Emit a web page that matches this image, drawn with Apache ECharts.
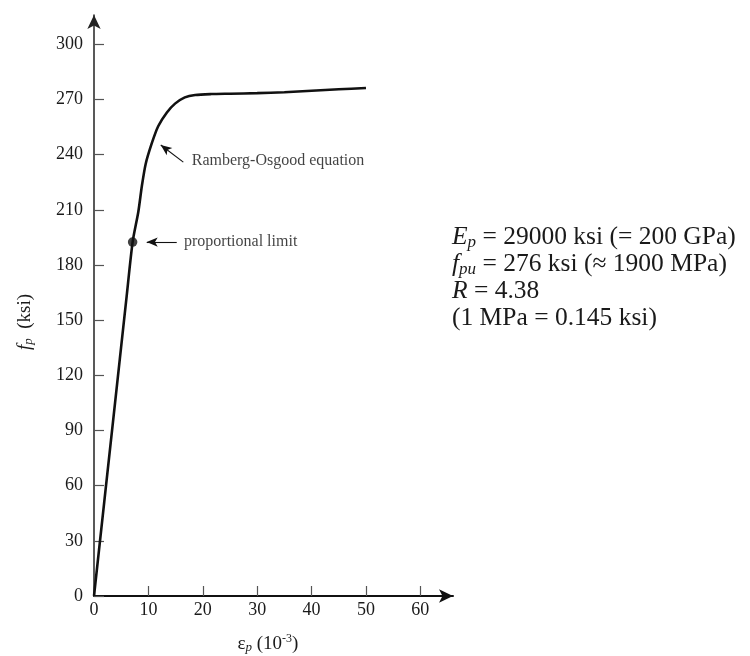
<!DOCTYPE html>
<html>
<head>
<meta charset="utf-8">
<script src="https://cdn.jsdelivr.net/npm/echarts@6/dist/echarts.min.js"></script>
<style>html,body{margin:0;padding:0;background:#fff;}#c{width:750px;height:656px;}</style>
</head>
<body>
<div id="c"></div>
<script>
// strain (10^-3) and stress (ksi)
const strain = [0, 3.5, 6.0, 7.1, 8.15, 8.8, 9.5, 10.6, 11.8, 13.4, 14.9, 16.7, 18.6, 21.6, 25, 30, 35, 40, 45, 50];
const stress = [0, 95, 163, 192.5, 209, 223, 235, 246, 255.5, 263, 267.8, 271.2, 272.5, 273, 273.2, 273.5, 274, 274.8, 275.6, 276.3];
const propLimit = [7.1, 192.5];
const xTicks = [0, 10, 20, 30, 40, 50, 60];
const yTicks = [0, 30, 60, 90, 120, 150, 180, 210, 240, 270, 300];
const roArrow = [[16.42, 236.0], [12.27, 245.3]];
const roLabelAt = [17.97, 236.6];
const plArrow = [[15.21, 192.5], [9.69, 192.5]];
const plLabelAt = [16.55, 192.5];
const roText = 'Ramberg-Osgood equation';
const plText = 'proportional limit';

const FONT = '"Liberation Serif", "Times New Roman", serif';
const chart = echarts.init(document.getElementById('c'), null, {renderer: 'canvas'});

const curve = strain.map((x, i) => [x, stress[i]]);

const option = {
  animation: false,
  backgroundColor: '#fff',
  grid: {left: 94, right: 297, top: 15, bottom: 60, containLabel: false},
  xAxis: {
    type: 'value', min: 0, max: 66,
    axisLine: {show: true, lineStyle: {color: '#111', width: 2}, symbol: ['none', 'arrow'], symbolSize: [10, 14]},
    axisTick: {show: true, inside: true, length: 10, lineStyle: {color: '#555', width: 1.2}, customValues: xTicks},
    axisLabel: {fontFamily: FONT, fontSize: 18, color: '#1a1a1a', margin: 5, customValues: xTicks},
    splitLine: {show: false}
  },
  yAxis: {
    type: 'value', min: 0, max: 316,
    axisLine: {show: true, lineStyle: {color: '#222', width: 1.5}, symbol: ['none', 'arrow'], symbolSize: [10, 14]},
    axisTick: {show: true, inside: true, length: 10, lineStyle: {color: '#555', width: 1.2}, customValues: yTicks},
    axisLabel: {fontFamily: FONT, fontSize: 18, color: '#1a1a1a', margin: 11, customValues: yTicks},
    splitLine: {show: false}
  },
  series: [
    {
      type: 'line', data: curve, smooth: 0.25, showSymbol: false,
      lineStyle: {color: '#111', width: 2.6}, z: 3,
      markLine: {
        silent: true, symbol: ['none', 'arrow'], symbolSize: [7, 11],
        lineStyle: {color: '#111', width: 1.1, type: 'solid'},
        label: {show: false},
        data: [
          [{coord: roArrow[0]}, {coord: roArrow[1]}],
          [{coord: plArrow[0]}, {coord: plArrow[1]}]
        ]
      }
    },
    {
      type: 'scatter', data: [propLimit], symbol: 'circle', symbolSize: 9.5,
      itemStyle: {color: '#111'}, z: 4
    },
    {
      type: 'scatter', symbolSize: 0,
      data: [
        {value: roLabelAt, name: roText},
        {value: plLabelAt, name: plText}
      ],
      label: {show: true, position: 'right', distance: 0, formatter: p => p.name,
        fontFamily: FONT, fontSize: 16, color: '#111'}
    }
  ],
  graphic: [
    {
      type: 'text', x: 25, y: 322, rotation: Math.PI / 2,
      style: {
        text: '{fi|f}{sub|p}{n|  (ksi)}',
        align: 'center', verticalAlign: 'middle',
        rich: {
          fi: {fontFamily: FONT, fontSize: 19, fontStyle: 'italic', fill: '#1a1a1a'},
          sub: {fontFamily: FONT, fontSize: 13, fontStyle: 'italic', fill: '#1a1a1a', padding: [8, 0, 0, 0]},
          n: {fontFamily: FONT, fontSize: 19, fill: '#1a1a1a'}
        }
      }
    },
    {
      type: 'text', x: 268, y: 644,
      style: {
        text: '{n|ε}{sub|p}{n| (10}{sup|-3}{n|)}',
        align: 'center', verticalAlign: 'middle',
        rich: {
          n: {fontFamily: FONT, fontSize: 19, fill: '#1a1a1a'},
          sub: {fontFamily: FONT, fontSize: 13, fontStyle: 'italic', fill: '#1a1a1a', padding: [8, 0, 0, 0]},
          sup: {fontFamily: FONT, fontSize: 12, fill: '#1a1a1a', padding: [0, 0, 10, 0]}
        }
      }
    },
    {
      type: 'text', x: 452, y: 224,
      style: {
        text: '{i|E}{sub|p}{n| = 29000 ksi (= 200 GPa)}\n{i|f}{sub|pu}{n| = 276 ksi (≈ 1900 MPa)}\n{i|R}{n| = 4.38}\n{n|(1 MPa = 0.145 ksi)}',
        align: 'left', verticalAlign: 'top',
        rich: {
          i: {fontFamily: FONT, fontSize: 25.5, fontStyle: 'italic', fill: '#1a1a1a', lineHeight: 27},
          n: {fontFamily: FONT, fontSize: 25.5, fill: '#1a1a1a', lineHeight: 27},
          sub: {fontFamily: FONT, fontSize: 17, fontStyle: 'italic', fill: '#1a1a1a', lineHeight: 27, padding: [10, 0, 0, 0]}
        }
      }
    }
  ]
};
chart.setOption(option);
</script>
</body>
</html>
